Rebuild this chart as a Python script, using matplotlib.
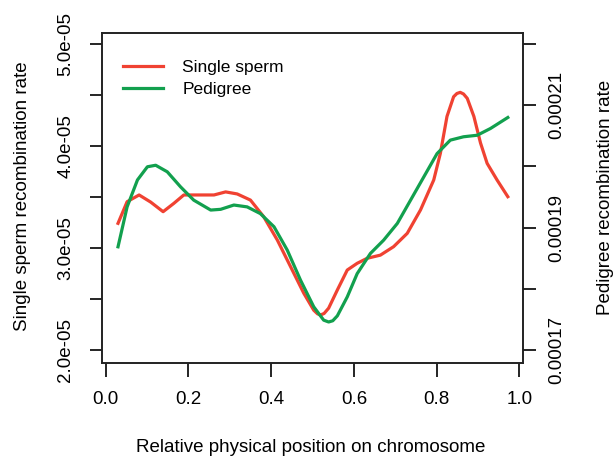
import numpy as np
import matplotlib
matplotlib.use("Agg")
import matplotlib.pyplot as plt

plt.rcParams["font.family"] = ["Liberation Sans", "DejaVu Sans"]

# single sperm rate (units of 1e-5)
sperm_x = [0.030, 0.052, 0.081, 0.109, 0.139, 0.165, 0.189, 0.229, 0.262, 0.290,
           0.318, 0.350, 0.382, 0.415, 0.447, 0.479, 0.503, 0.512, 0.519, 0.528,
           0.539, 0.560, 0.584, 0.608, 0.632, 0.664, 0.696, 0.729, 0.761, 0.793,
           0.809, 0.825, 0.841, 0.849, 0.857, 0.865, 0.874, 0.890, 0.906, 0.922,
           0.946, 0.972]
sperm_y = [3.242, 3.454, 3.520, 3.450, 3.356, 3.438, 3.520, 3.520, 3.520, 3.550,
           3.530, 3.470, 3.307, 3.078, 2.817, 2.556, 2.390, 2.355, 2.343, 2.358,
           2.410, 2.588, 2.784, 2.850, 2.899, 2.930, 3.013, 3.144, 3.373, 3.667,
           3.928, 4.290, 4.483, 4.515, 4.526, 4.510, 4.467, 4.290, 4.030, 3.830,
           3.667, 3.503]

# pedigree rate (units of 1e-5)
ped_x = [0.030, 0.052, 0.077, 0.101, 0.121, 0.149, 0.181, 0.213, 0.254, 0.278,
         0.310, 0.342, 0.374, 0.407, 0.439, 0.471, 0.503, 0.527, 0.539, 0.549,
         0.560, 0.584, 0.608, 0.640, 0.672, 0.705, 0.737, 0.769, 0.801, 0.833,
         0.865, 0.898, 0.930, 0.972]
ped_y = [18.688, 19.340, 19.780, 19.995, 20.020, 19.913, 19.668, 19.450, 19.288, 19.300,
         19.370, 19.340, 19.230, 19.015, 18.634, 18.144, 17.708, 17.490, 17.460, 17.480,
         17.560, 17.870, 18.250, 18.580, 18.797, 19.070, 19.450, 19.830, 20.210, 20.430,
         20.485, 20.510, 20.620, 20.800]

left_ticks = [2.0, 2.5, 3.0, 3.5, 4.0, 4.5, 5.0]
left_labels = ["2.0e-05", "", "3.0e-05", "", "4.0e-05", "", "5.0e-05"]
right_ticks = [17, 18, 19, 20, 21, 22]
right_labels = ["0.00017", "", "0.00019", "", "0.00021", ""]
x_ticks = [0.0, 0.2, 0.4, 0.6, 0.8, 1.0]
x_labels = ["0.0", "0.2", "0.4", "0.6", "0.8", "1.0"]

RED = "#F04232"
GREEN = "#12A04E"
FS = 13.5

fig = plt.figure(figsize=(6.14, 4.57), dpi=100)
ax = fig.add_axes([102 / 614, 1 - 363 / 457, 421 / 614, 330 / 457])
ax2 = ax.twinx()

l1, = ax.plot(np.array(sperm_x), np.array(sperm_y) * 1e-5, color=RED, lw=2.3,
              solid_joinstyle="round", label="Single sperm")
l2, = ax2.plot(np.array(ped_x), np.array(ped_y) * 1e-5, color=GREEN, lw=2.3,
               solid_joinstyle="round", label="Pedigree")

ax.set_xlim(-0.0087, 1.0087)
ax.set_ylim(1.8725e-5, 5.108e-5)
ax2.set_ylim(16.79e-5, 22.18e-5)

ax.set_xticks(x_ticks)
ax.set_xticklabels(x_labels, fontsize=FS)
ax.set_yticks(np.array(left_ticks) * 1e-5)
ax.set_yticklabels(left_labels, fontsize=FS, rotation=90, va="center")
ax2.set_yticks(np.array(right_ticks) * 1e-5)
ax2.set_yticklabels(right_labels, fontsize=FS, rotation=90, va="center")

ax.tick_params(axis="x", direction="out", length=10, width=1.2, pad=10)
ax.tick_params(axis="y", direction="out", length=9, width=1.2, pad=11)
ax2.tick_params(axis="y", direction="out", length=9, width=1.2, pad=9)
for a in (ax, ax2):
    for s in a.spines.values():
        s.set_linewidth(1.2)
        s.set_color("#222222")

ax2.legend(handles=[l1, l2], loc="upper left", frameon=False, fontsize=12.5,
           handlelength=2.3, handletextpad=1.1, labelspacing=0.4,
           bbox_to_anchor=(0.013, 0.965))

fig.text(23 / 614, 1 - 196 / 457, "Single sperm recombination rate", rotation=90,
         ha="center", va="center", fontsize=FS)
fig.text(605 / 614, 1 - 197 / 457, "Pedigree recombination rate", rotation=90,
         ha="center", va="center", fontsize=FS)
fig.text(311 / 614, 1 - 447 / 457, "Relative physical position on chromosome",
         ha="center", va="center", fontsize=FS)

fig.savefig("out.png", dpi=100)
